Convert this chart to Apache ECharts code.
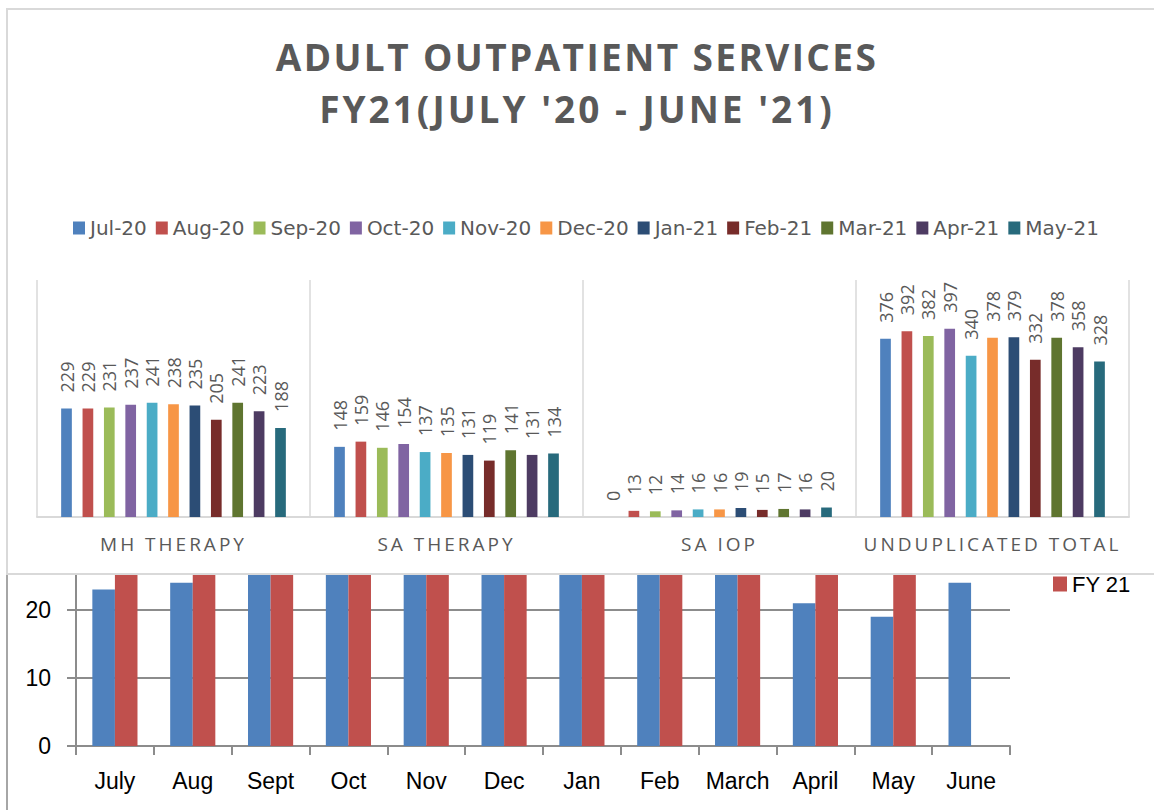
<!DOCTYPE html>
<html>
<head>
<meta charset="utf-8">
<script src="https://cdn.jsdelivr.net/npm/echarts@6/dist/echarts.min.js"></script>
<style>
  html, body { margin: 0; padding: 0; background: #fff; width: 1154px; height: 810px; overflow: hidden; }
  #bottomChart { position: absolute; left: 0; top: 440px; width: 1154px; height: 370px; z-index: 1; }
  #topChart { position: absolute; left: 0; top: 0; width: 1154px; height: 575px; background: #fff; z-index: 2; }
  #card { position: absolute; left: 6px; top: 8px; width: 1170px; height: 567px; box-sizing: border-box;
          border: 2px solid #D9D9D9; z-index: 3; pointer-events: none; }
  #bottomEdge { position: absolute; left: 6px; top: 575px; width: 2px; height: 235px; background: #A6A6A6; z-index: 3; }
</style>
</head>
<body>
<div id="bottomChart"></div>
<div id="topChart"></div>
<div id="card"></div>
<div id="bottomEdge"></div>
<script>
// ---------- Top chart data ----------
const titleLines = ['ADULT OUTPATIENT SERVICES', "FY21(JULY '20 - JUNE '21)"];
const serviceCategories = ['MH THERAPY', 'SA THERAPY', 'SA IOP', 'UNDUPLICATED TOTAL'];
const monthNames = ['Jul-20', 'Aug-20', 'Sep-20', 'Oct-20', 'Nov-20', 'Dec-20', 'Jan-21', 'Feb-21', 'Mar-21', 'Apr-21', 'May-21'];
const mhTherapy    = [229, 229, 231, 237, 241, 238, 235, 205, 241, 223, 188];
const saTherapy    = [148, 159, 146, 154, 137, 135, 131, 119, 141, 131, 134];
const saIop        = [0, 13, 12, 14, 16, 16, 19, 15, 17, 16, 20];
const unduplicated = [376, 392, 382, 397, 340, 378, 379, 332, 378, 358, 328];

// ---------- Bottom chart data (upper part of the bars is hidden behind the top chart) ----------
const fyMonths = ['July', 'Aug', 'Sept', 'Oct', 'Nov', 'Dec', 'Jan', 'Feb', 'March', 'April', 'May', 'June'];
const fy20 = [23, 24, 27, 28, 29, 28, 27, 29, 28, 21, 19, 24];
const fy21 = [30, 31, 30, 32, 31, 30, 29, 31, 33, 29, 28, null];

const palette = ['#4F81BD', '#C0504D', '#9BBB59', '#8064A2', '#4BACC6', '#F79646',
                 '#2C4D75', '#772C2A', '#5F7530', '#4D3B62', '#276A7C'];

// ---------- Top chart ----------
const topChart = echarts.init(document.getElementById('topChart'), null, { renderer: 'svg' });
const perCategory = [mhTherapy, saTherapy, saIop, unduplicated];
const topSeries = monthNames.map((m, i) => ({
  name: m,
  type: 'bar',
  barWidth: 10.7,
  barGap: '100%',
  itemStyle: { color: palette[i] },
  label: {
    show: true,
    position: 'top',
    rotate: 90,
    distance: 16,
    align: 'left',
    verticalAlign: 'middle',
    fontFamily: 'Open Sans',
    fontSize: 18,
    color: '#595959'
  },
  data: perCategory.map(arr => arr[i])
}));

topChart.setOption({
  animation: false,
  color: palette,
  title: [
    { text: titleLines[0], left: 'center', top: 33,
      textStyle: { fontFamily: 'Open Sans', fontWeight: 'bold', fontSize: 37, color: '#595959' } },
    { text: titleLines[1], left: 'center', top: 85,
      textStyle: { fontFamily: 'Open Sans', fontWeight: 'bold', fontSize: 37, color: '#595959' } }
  ],
  legend: {
    data: monthNames,
    left: 73,
    top: 218,
    padding: 0,
    icon: 'rect',
    itemWidth: 12,
    itemHeight: 13,
    itemGap: 9,
    textStyle: { fontFamily: 'DejaVu Sans', fontSize: 20, color: '#595959' }
  },
  grid: { left: 37, right: 25, top: 280, bottom: 58 },
  xAxis: {
    type: 'category',
    data: serviceCategories,
    axisLine: { lineStyle: { color: '#D9D9D9', width: 2 } },
    axisTick: { show: false },
    splitLine: { show: true, lineStyle: { color: '#D9D9D9', width: 1.5 } },
    axisLabel: { fontFamily: 'Open Sans', fontSize: 19, color: '#595959', margin: 17 }
  },
  yAxis: {
    type: 'value', min: 0, max: 500, show: false,
    splitLine: { show: false }
  },
  series: topSeries
});

// ---------- Bottom chart ----------
const bottomChart = echarts.init(document.getElementById('bottomChart'), null, { renderer: 'svg' });
bottomChart.setOption({
  animation: false,
  legend: {
    data: ['FY 21'],
    orient: 'vertical',
    left: 1053,
    top: 133,
    padding: 0,
    icon: 'rect',
    itemWidth: 14,
    itemHeight: 15,
    itemGap: 10,
    textStyle: { fontFamily: 'Liberation Sans', fontSize: 22, color: '#000' }
  },
  grid: { left: 76, right: 144, top: 34, bottom: 64 },
  xAxis: {
    type: 'category',
    data: fyMonths,
    axisLine: { lineStyle: { color: '#8C8C8C', width: 2 } },
    axisTick: { show: true, length: 9, lineStyle: { color: '#8C8C8C', width: 2 } },
    axisLabel: { interval: 0, fontFamily: 'Liberation Sans', fontSize: 23, color: '#000', margin: 23 }
  },
  yAxis: {
    type: 'value', min: 0, max: 40, interval: 10,
    axisLine: { show: true, lineStyle: { color: '#8C8C8C', width: 2 } },
    axisTick: { show: true, length: 9, lineStyle: { color: '#8C8C8C', width: 2 } },
    splitLine: { show: true, lineStyle: { color: '#8C8C8C', width: 2 } },
    axisLabel: { fontFamily: 'Liberation Sans', fontSize: 23, color: '#000', margin: 25 }
  },
  series: [
    { name: 'FY 20', type: 'bar', barGap: '0%', barCategoryGap: '42%',
      itemStyle: { color: '#4F81BD' }, data: fy20 },
    { name: 'FY 21', type: 'bar', barGap: '0%', barCategoryGap: '42%',
      itemStyle: { color: '#C0504D' }, data: fy21 }
  ]
});

// ---------- letter spacing for spaced caps texts ----------
function applySpacing() {
  document.querySelectorAll('#topChart svg text').forEach(t => {
    const s = t.textContent;
    if (s === titleLines[0]) t.setAttribute('letter-spacing', '2.4');
    else if (s === titleLines[1]) t.setAttribute('letter-spacing', '3');
    else if (serviceCategories.indexOf(s) >= 0) t.setAttribute('letter-spacing', '3');
  });
}
applySpacing();
topChart.on('finished', applySpacing);
setTimeout(applySpacing, 0);
setTimeout(applySpacing, 200);
</script>
</body>
</html>
